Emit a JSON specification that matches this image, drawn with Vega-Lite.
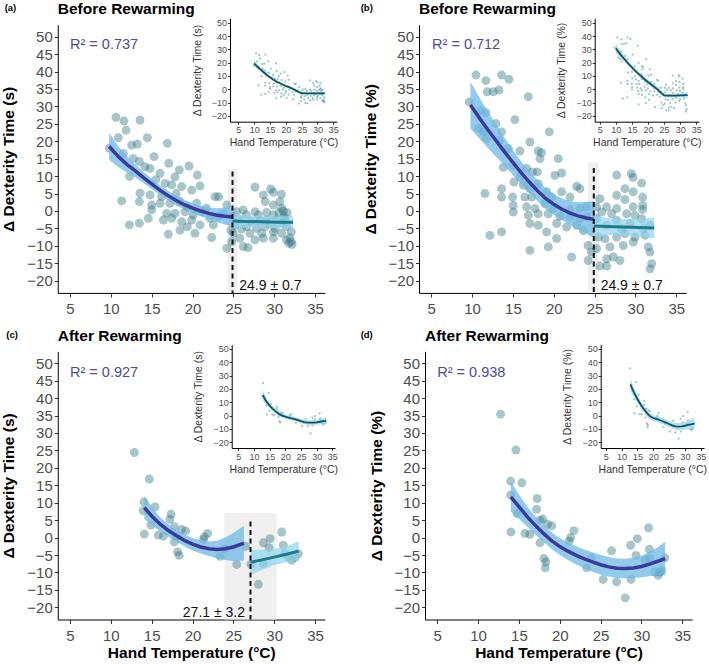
{
"$schema": "https://vega.github.io/schema/vega-lite/v6.json",
"width": 709, "height": 664, "autosize": "none", "padding": 0, "background": "white",
"config": {"view": {"stroke": null}, "axis": {"grid": false, "labelFont": "Liberation Sans", "titleFont": "Liberation Sans", "labelOverlap": false, "labelFlush": false, "domainColor": "#000000", "tickColor": "#333333", "labelColor": "#4d4d4d", "domainWidth": 1, "tickWidth": 1, "zindex": 1}, "text": {"font": "Liberation Sans"}},
"datasets": {
"pa": [{"x":10.63,"y":26.9},{"x":11.61,"y":25.8},{"x":13.57,"y":26.1},{"x":11.86,"y":23.2},{"x":10.92,"y":21.0},{"x":14.47,"y":21.0},{"x":12.55,"y":18.9},{"x":13.25,"y":19.2},{"x":16.92,"y":19.4},{"x":9.82,"y":18.0},{"x":11.53,"y":16.5},{"x":12.75,"y":15.1},{"x":15.29,"y":15.6},{"x":13.49,"y":14.2},{"x":14.18,"y":12.7},{"x":14.8,"y":12.2},{"x":17.1,"y":13.7},{"x":18.39,"y":11.8},{"x":19.57,"y":12.9},{"x":17.86,"y":9.8},{"x":16.02,"y":10.8},{"x":12.3,"y":9.9},{"x":16.63,"y":7.9},{"x":17.45,"y":7.5},{"x":20.59,"y":10.3},{"x":18.67,"y":7.0},{"x":19.9,"y":6.0},{"x":20.92,"y":7.2},{"x":13.57,"y":5.1},{"x":14.8,"y":4.6},{"x":16.22,"y":4.1},{"x":22.76,"y":4.1},{"x":23.2,"y":4.1},{"x":11.33,"y":2.9},{"x":13.49,"y":2.7},{"x":15.0,"y":1.7},{"x":16.02,"y":2.2},{"x":17.24,"y":2.2},{"x":18.47,"y":2.7},{"x":19.37,"y":1.2},{"x":20.51,"y":2.2},{"x":24.2,"y":1.7},{"x":15.0,"y":0.3},{"x":16.84,"y":-0.7},{"x":17.86,"y":-0.7},{"x":19.08,"y":-0.2},{"x":20.1,"y":-1.1},{"x":21.12,"y":-0.2},{"x":22.14,"y":-2.1},{"x":23.2,"y":-1.6},{"x":12.27,"y":-4.0},{"x":13.49,"y":-3.5},{"x":14.59,"y":-2.1},{"x":16.43,"y":-2.6},{"x":17.45,"y":-2.1},{"x":18.67,"y":-3.1},{"x":19.9,"y":-2.6},{"x":18.47,"y":-5.5},{"x":19.37,"y":-4.5},{"x":17.04,"y":-6.7},{"x":20.3,"y":-6.4},{"x":22.35,"y":-7.6},{"x":24.2,"y":-10.7},{"x":20.92,"y":-4.0},{"x":22.55,"y":-4.0},{"x":21.7,"y":0.8},{"x":23.8,"y":-0.8},{"x":24.7,"y":-5.5},{"x":15.5,"y":9.0},{"x":18.0,"y":5.0},{"x":27.65,"y":6.8},{"x":29.57,"y":6.3},{"x":29.9,"y":5.35},{"x":30.9,"y":4.8},{"x":28.67,"y":4.6},{"x":28.9,"y":2.7},{"x":30.7,"y":2.7},{"x":29.9,"y":1.7},{"x":30.9,"y":0.8},{"x":31.12,"y":0.0},{"x":26.2,"y":0.3},{"x":25.4,"y":-0.2},{"x":27.65,"y":-0.2},{"x":28.06,"y":-1.1},{"x":29.08,"y":-0.4},{"x":29.9,"y":-1.1},{"x":26.6,"y":-1.1},{"x":24.92,"y":-1.6},{"x":25.8,"y":-2.6},{"x":29.08,"y":-2.6},{"x":30.3,"y":-2.6},{"x":31.3,"y":-2.6},{"x":25.2,"y":-4.0},{"x":26.6,"y":-4.5},{"x":27.86,"y":-5.0},{"x":28.9,"y":-4.5},{"x":30.1,"y":-5.0},{"x":31.5,"y":-4.5},{"x":25.0,"y":-6.4},{"x":27.04,"y":-6.4},{"x":28.47,"y":-6.4},{"x":29.9,"y":-6.0},{"x":30.9,"y":-6.4},{"x":32.1,"y":-6.0},{"x":25.8,"y":-7.8},{"x":27.65,"y":-8.3},{"x":28.67,"y":-7.8},{"x":29.9,"y":-7.8},{"x":31.5,"y":-8.3},{"x":32.1,"y":-8.8},{"x":24.8,"y":-8.8},{"x":26.2,"y":-10.2},{"x":26.8,"y":-10.5},{"x":31.9,"y":-7.7},{"x":31.2,"y":-1.5},{"x":31.6,"y":-0.5},{"x":31.8,"y":-9.3},{"x":32.2,"y":-9.6},{"x":31.0,"y":-3.5},{"x":29.4,"y":-3.5},{"x":27.2,"y":-3.0},{"x":26.0,"y":-5.2},{"x":28.2,"y":-2.8},{"x":30.6,"y":-0.5}],
"pb": [{"x":10.47,"y":39.0},{"x":11.69,"y":37.4},{"x":13.61,"y":39.0},{"x":14.51,"y":37.8},{"x":11.86,"y":34.2},{"x":12.59,"y":34.2},{"x":13.29,"y":34.7},{"x":9.65,"y":31.3},{"x":11.04,"y":28.7},{"x":11.69,"y":28.2},{"x":16.88,"y":32.8},{"x":10.76,"y":23.7},{"x":11.37,"y":22.7},{"x":12.92,"y":25.1},{"x":13.61,"y":22.7},{"x":15.24,"y":26.2},{"x":11.78,"y":20.8},{"x":13.33,"y":20.3},{"x":14.43,"y":17.9},{"x":17.08,"y":19.8},{"x":19.45,"y":22.7},{"x":15.86,"y":17.2},{"x":18.1,"y":17.2},{"x":18.5,"y":16.7},{"x":18.31,"y":15.0},{"x":20.55,"y":15.0},{"x":13.82,"y":12.5},{"x":15.04,"y":13.1},{"x":16.67,"y":12.2},{"x":17.4,"y":11.2},{"x":17.98,"y":11.2},{"x":20.14,"y":10.2},{"x":20.96,"y":10.9},{"x":15.86,"y":9.8},{"x":15.12,"y":8.3},{"x":16.27,"y":7.4},{"x":17.08,"y":6.4},{"x":18.1,"y":7.8},{"x":22.8,"y":7.1},{"x":23.2,"y":6.4},{"x":11.57,"y":5.0},{"x":13.61,"y":6.4},{"x":13.61,"y":4.0},{"x":14.96,"y":4.0},{"x":16.47,"y":4.0},{"x":17.29,"y":4.0},{"x":19.12,"y":5.5},{"x":19.73,"y":4.0},{"x":20.96,"y":5.5},{"x":21.98,"y":4.0},{"x":15.04,"y":1.6},{"x":16.67,"y":1.2},{"x":17.69,"y":0.7},{"x":15.04,"y":-0.3},{"x":18.92,"y":2.1},{"x":19.94,"y":0.7},{"x":21.98,"y":0.4},{"x":23.2,"y":0.7},{"x":24.0,"y":1.2},{"x":16.88,"y":-1.2},{"x":18.1,"y":-0.8},{"x":19.33,"y":-0.8},{"x":20.75,"y":-1.5},{"x":21.98,"y":-1.7},{"x":23.2,"y":-2.2},{"x":24.0,"y":-1.7},{"x":17.08,"y":-3.6},{"x":18.1,"y":-4.1},{"x":19.12,"y":-6.0},{"x":20.35,"y":-3.6},{"x":21.57,"y":-4.6},{"x":22.8,"y":-4.1},{"x":23.61,"y":-5.6},{"x":12.18,"y":-7.0},{"x":13.61,"y":-6.0},{"x":20.35,"y":-7.9},{"x":17.08,"y":-11.3},{"x":19.33,"y":-10.3},{"x":22.18,"y":-13.2},{"x":24.2,"y":-9.9},{"x":24.6,"y":-11.8},{"x":27.7,"y":10.3},{"x":29.5,"y":10.7},{"x":29.7,"y":9.6},{"x":30.76,"y":8.0},{"x":28.71,"y":6.4},{"x":29.73,"y":5.5},{"x":27.7,"y":4.5},{"x":30.88,"y":4.0},{"x":25.65,"y":3.5},{"x":28.71,"y":3.3},{"x":25.24,"y":1.2},{"x":26.47,"y":1.2},{"x":27.7,"y":0.7},{"x":29.73,"y":1.2},{"x":30.88,"y":1.6},{"x":30.88,"y":0.4},{"x":25.86,"y":-0.3},{"x":27.08,"y":-0.8},{"x":28.92,"y":-0.8},{"x":29.94,"y":-1.2},{"x":25.24,"y":-2.2},{"x":27.7,"y":-2.7},{"x":30.76,"y":-2.2},{"x":26.47,"y":-4.1},{"x":29.33,"y":-3.6},{"x":31.78,"y":-4.1},{"x":25.45,"y":-7.5},{"x":26.27,"y":-8.0},{"x":27.7,"y":-7.5},{"x":28.71,"y":-6.5},{"x":29.94,"y":-7.5},{"x":31.16,"y":-7.0},{"x":25.24,"y":-10.8},{"x":26.88,"y":-10.3},{"x":28.51,"y":-9.9},{"x":29.73,"y":-8.9},{"x":31.57,"y":-10.3},{"x":31.78,"y":-11.8},{"x":26.47,"y":-13.7},{"x":27.29,"y":-13.2},{"x":28.1,"y":-14.2},{"x":25.65,"y":-15.8},{"x":26.47,"y":-15.8},{"x":31.98,"y":-15.1},{"x":31.78,"y":-16.6},{"x":24.2,"y":-14.2},{"x":30.96,"y":-5.1},{"x":28.3,"y":-5.1}],
"pc": [{"x":12.88,"y":24.4},{"x":14.71,"y":16.8},{"x":14.06,"y":10.2},{"x":13.98,"y":7.7},{"x":15.41,"y":8.8},{"x":14.1,"y":1.0},{"x":14.92,"y":3.6},{"x":15.82,"y":0.7},{"x":16.43,"y":0.4},{"x":17.37,"y":6.7},{"x":17.24,"y":5.2},{"x":17.78,"y":3.1},{"x":18.67,"y":2.3},{"x":19.16,"y":1.9},{"x":18.06,"y":0.4},{"x":17.78,"y":-1.2},{"x":18.18,"y":-4.1},{"x":18.35,"y":-5.1},{"x":21.45,"y":0.2},{"x":21.86,"y":1.2},{"x":21.33,"y":-0.6},{"x":23.37,"y":-5.4},{"x":23.9,"y":-3.2},{"x":25.41,"y":-7.7},{"x":27.16,"y":-7.7},{"x":28.06,"y":-13.4},{"x":28.67,"y":-1.5},{"x":29.49,"y":-0.3},{"x":29.37,"y":-2.9},{"x":30.92,"y":1.6},{"x":31.12,"y":-2.2},{"x":28.67,"y":-7.5},{"x":31.73,"y":-5.6},{"x":32.14,"y":-6.5},{"x":32.55,"y":-5.7},{"x":32.96,"y":-4.6},{"x":31.33,"y":-4.6},{"x":26.5,"y":-2.5}],
"pd": [{"x":12.75,"y":35.4},{"x":14.63,"y":25.1},{"x":13.98,"y":16.2},{"x":15.36,"y":15.7},{"x":13.98,"y":12.2},{"x":17.24,"y":11.2},{"x":14.79,"y":6.9},{"x":17.16,"y":8.1},{"x":17.57,"y":5.0},{"x":17.9,"y":5.3},{"x":18.5,"y":3.8},{"x":19.0,"y":3.4},{"x":14.02,"y":1.6},{"x":15.73,"y":1.2},{"x":16.34,"y":0.9},{"x":17.57,"y":-1.5},{"x":18.06,"y":-6.0},{"x":18.3,"y":-7.0},{"x":18.22,"y":-8.7},{"x":21.73,"y":2.0},{"x":21.32,"y":0.0},{"x":21.16,"y":-1.0},{"x":23.28,"y":-8.7},{"x":23.85,"y":-5.8},{"x":25.32,"y":-12.0},{"x":26.34,"y":-3.8},{"x":26.96,"y":-12.7},{"x":28.02,"y":-17.3},{"x":28.71,"y":-12.0},{"x":28.67,"y":-2.2},{"x":29.49,"y":-0.3},{"x":29.33,"y":-5.1},{"x":30.87,"y":2.8},{"x":30.96,"y":-3.35},{"x":30.47,"y":-6.5},{"x":31.04,"y":-6.0},{"x":31.65,"y":-9.9},{"x":32.26,"y":-9.9},{"x":32.06,"y":-10.8},{"x":32.87,"y":-5.8},{"x":32.47,"y":-9.4}],
"fa1": [{"x":9.8,"y":18.5,"lo":14.6,"hi":22.4},{"x":11,"y":15.4,"lo":12.5,"hi":18.3},{"x":12,"y":13.3,"lo":11.0,"hi":15.6},{"x":13,"y":11.5,"lo":9.6,"hi":13.4},{"x":14,"y":9.6,"lo":8.0,"hi":11.2},{"x":15,"y":7.8,"lo":6.3,"hi":9.3},{"x":16,"y":6.0,"lo":4.6,"hi":7.4},{"x":17,"y":4.4,"lo":3.0,"hi":5.8},{"x":18,"y":3.0,"lo":1.6,"hi":4.4},{"x":19,"y":1.8,"lo":0.4,"hi":3.2},{"x":20,"y":0.8,"lo":-0.6,"hi":2.2},{"x":21,"y":0.0,"lo":-1.5,"hi":1.5},{"x":22,"y":-0.7,"lo":-2.4,"hi":1.0},{"x":23,"y":-1.2,"lo":-3.2,"hi":0.8},{"x":24,"y":-1.5,"lo":-3.9,"hi":0.9},{"x":24.9,"y":-1.7,"lo":-4.5,"hi":1.1}],
"fa2": [{"x":24.9,"y":-2.9,"lo":-5.1,"hi":-0.7},{"x":26.5,"y":-3.0,"lo":-4.8,"hi":-1.2},{"x":28.5,"y":-3.1,"lo":-4.7,"hi":-1.5},{"x":30.5,"y":-3.2,"lo":-4.9,"hi":-1.5},{"x":32.3,"y":-3.25,"lo":-5.15,"hi":-1.35}],
"fb1": [{"x":9.8,"y":30.4,"lo":23.7,"hi":37.1},{"x":11,"y":26.3,"lo":20.5,"hi":32.1},{"x":12,"y":23.1,"lo":17.9,"hi":28.3},{"x":13,"y":20.0,"lo":15.4,"hi":24.6},{"x":14,"y":16.9,"lo":12.9,"hi":20.9},{"x":15,"y":13.9,"lo":10.3,"hi":17.5},{"x":16,"y":11.0,"lo":7.7,"hi":14.3},{"x":17,"y":8.3,"lo":5.2,"hi":11.4},{"x":18,"y":5.8,"lo":2.8,"hi":8.8},{"x":19,"y":3.6,"lo":0.6,"hi":6.6},{"x":20,"y":1.9,"lo":-1.1,"hi":4.9},{"x":21,"y":0.5,"lo":-2.6,"hi":3.6},{"x":22,"y":-0.6,"lo":-4.0,"hi":2.8},{"x":23,"y":-1.4,"lo":-5.3,"hi":2.5},{"x":24,"y":-2.0,"lo":-6.6,"hi":2.6},{"x":24.9,"y":-2.4,"lo":-7.7,"hi":2.9}],
"fb2": [{"x":24.9,"y":-4.3,"lo":-7.3,"hi":-1.3},{"x":26.5,"y":-4.45,"lo":-6.9,"hi":-2.0},{"x":28.5,"y":-4.6,"lo":-6.9,"hi":-2.3},{"x":30.5,"y":-4.75,"lo":-7.3,"hi":-2.2},{"x":32.3,"y":-4.9,"lo":-7.9,"hi":-1.9}],
"fc1": [{"x":14.1,"y":8.6,"lo":5.3,"hi":11.9},{"x":15,"y":6.2,"lo":3.6,"hi":8.8},{"x":16,"y":3.9,"lo":1.8,"hi":6.0},{"x":17,"y":2.1,"lo":0.3,"hi":3.9},{"x":18,"y":0.6,"lo":-1.1,"hi":2.3},{"x":19,"y":-0.8,"lo":-2.5,"hi":0.9},{"x":20,"y":-1.9,"lo":-3.7,"hi":-0.1},{"x":21,"y":-2.7,"lo":-4.6,"hi":-0.8},{"x":22,"y":-3.2,"lo":-5.3,"hi":-1.1},{"x":23,"y":-3.4,"lo":-5.9,"hi":-0.9},{"x":24,"y":-3.2,"lo":-6.4,"hi":0.0},{"x":25,"y":-2.7,"lo":-6.7,"hi":1.3},{"x":26.3,"y":-1.6,"lo":-6.6,"hi":3.4}],
"fc2": [{"x":27.1,"y":-7.1,"lo":-10.8,"hi":-3.5},{"x":28.5,"y":-6.4,"lo":-9.3,"hi":-3.5},{"x":30,"y":-5.6,"lo":-7.9,"hi":-3.3},{"x":31.5,"y":-4.8,"lo":-7.1,"hi":-2.5},{"x":33,"y":-3.9,"lo":-6.7,"hi":-1.1}],
"fd": [{"x":14,"y":11.7,"lo":7.4,"hi":16.0},{"x":15,"y":8.9,"lo":5.4,"hi":12.4},{"x":16,"y":6.0,"lo":3.1,"hi":8.9},{"x":17,"y":3.5,"lo":0.9,"hi":6.1},{"x":18,"y":1.2,"lo":-1.2,"hi":3.6},{"x":19,"y":-0.9,"lo":-3.3,"hi":1.5},{"x":20,"y":-2.6,"lo":-5.0,"hi":-0.2},{"x":21,"y":-3.9,"lo":-6.4,"hi":-1.4},{"x":22,"y":-5.1,"lo":-7.7,"hi":-2.5},{"x":23,"y":-6.1,"lo":-8.8,"hi":-3.4},{"x":24,"y":-7.0,"lo":-9.8,"hi":-4.2},{"x":25,"y":-7.8,"lo":-10.6,"hi":-5.0},{"x":26,"y":-8.4,"lo":-11.2,"hi":-5.6},{"x":27,"y":-8.8,"lo":-11.6,"hi":-6.0},{"x":28,"y":-8.9,"lo":-11.7,"hi":-6.1},{"x":29,"y":-8.7,"lo":-11.6,"hi":-5.8},{"x":30,"y":-8.3,"lo":-11.4,"hi":-5.2},{"x":31,"y":-7.6,"lo":-11.1,"hi":-4.1},{"x":32,"y":-6.8,"lo":-10.8,"hi":-2.8},{"x":32.9,"y":-6.0,"lo":-10.8,"hi":-1.2}],
"ia": [{"x":10,"y":19.5,"lo":17.0,"hi":22.0},{"x":11,"y":17.1,"lo":15.1,"hi":19.1},{"x":12,"y":15.0,"lo":13.4,"hi":16.6},{"x":13,"y":12.8,"lo":11.5,"hi":14.1},{"x":14,"y":10.8,"lo":9.6,"hi":12.0},{"x":15,"y":9.1,"lo":8.0,"hi":10.2},{"x":16,"y":7.4,"lo":6.4,"hi":8.4},{"x":17,"y":5.8,"lo":4.8,"hi":6.8},{"x":18,"y":4.7,"lo":3.7,"hi":5.7},{"x":19,"y":3.6,"lo":2.6,"hi":4.6},{"x":20,"y":2.5,"lo":1.5,"hi":3.5},{"x":21,"y":1.6,"lo":0.6,"hi":2.6},{"x":22,"y":0.6,"lo":-0.4,"hi":1.6},{"x":23,"y":-0.6,"lo":-1.6,"hi":0.4},{"x":24,"y":-2.0,"lo":-3.0,"hi":-1.0},{"x":25,"y":-2.8,"lo":-3.8,"hi":-1.8},{"x":26,"y":-3.0,"lo":-3.9,"hi":-2.1},{"x":28,"y":-3.0,"lo":-3.9,"hi":-2.1},{"x":30,"y":-3.0,"lo":-4.0,"hi":-2.0},{"x":32.3,"y":-3.0,"lo":-4.5,"hi":-1.5}],
"ib": [{"x":10,"y":30.8,"lo":27.3,"hi":34.3},{"x":11,"y":27.5,"lo":24.7,"hi":30.3},{"x":12,"y":24.5,"lo":22.2,"hi":26.8},{"x":13,"y":21.8,"lo":19.8,"hi":23.8},{"x":14,"y":19.0,"lo":17.2,"hi":20.8},{"x":15,"y":16.5,"lo":14.8,"hi":18.2},{"x":16,"y":14.0,"lo":12.4,"hi":15.6},{"x":17,"y":11.8,"lo":10.2,"hi":13.4},{"x":18,"y":9.6,"lo":8.0,"hi":11.2},{"x":19,"y":7.4,"lo":5.8,"hi":9.0},{"x":20,"y":5.5,"lo":3.9,"hi":7.1},{"x":21,"y":3.6,"lo":2.0,"hi":5.2},{"x":22,"y":1.8,"lo":0.2,"hi":3.4},{"x":23,"y":-0.2,"lo":-1.8,"hi":1.4},{"x":24,"y":-2.5,"lo":-4.0,"hi":-1.0},{"x":25,"y":-4.5,"lo":-5.9,"hi":-3.1},{"x":26,"y":-4.8,"lo":-6.1,"hi":-3.5},{"x":28,"y":-4.8,"lo":-6.1,"hi":-3.5},{"x":30,"y":-4.6,"lo":-6.0,"hi":-3.2},{"x":32.3,"y":-4.3,"lo":-6.5,"hi":-2.1}],
"ic": [{"x":12.8,"y":15.5,"lo":11.5,"hi":19.5},{"x":13.5,"y":12.5,"lo":9.5,"hi":15.5},{"x":14,"y":10.5,"lo":7.9,"hi":13.1},{"x":15,"y":7.5,"lo":5.4,"hi":9.6},{"x":16,"y":5.0,"lo":3.2,"hi":6.8},{"x":17,"y":3.0,"lo":1.3,"hi":4.7},{"x":18,"y":1.3,"lo":-0.3,"hi":2.9},{"x":19,"y":0.0,"lo":-1.6,"hi":1.6},{"x":20,"y":-0.8,"lo":-2.4,"hi":0.8},{"x":21,"y":-1.5,"lo":-3.1,"hi":0.1},{"x":22,"y":-2.0,"lo":-3.6,"hi":-0.4},{"x":23,"y":-2.6,"lo":-4.2,"hi":-1.0},{"x":24,"y":-3.4,"lo":-5.0,"hi":-1.8},{"x":25,"y":-4.2,"lo":-5.8,"hi":-2.6},{"x":26,"y":-4.8,"lo":-6.5,"hi":-3.1},{"x":27,"y":-5.2,"lo":-6.9,"hi":-3.5},{"x":28,"y":-5.3,"lo":-7.0,"hi":-3.6},{"x":29,"y":-5.2,"lo":-6.9,"hi":-3.5},{"x":30,"y":-5.0,"lo":-6.8,"hi":-3.2},{"x":31,"y":-4.6,"lo":-6.6,"hi":-2.6},{"x":32,"y":-4.2,"lo":-6.5,"hi":-1.9},{"x":33,"y":-4.0,"lo":-6.8,"hi":-1.2}],
"id": [{"x":12.8,"y":23.5,"lo":18.5,"hi":28.5},{"x":13.5,"y":19.5,"lo":15.5,"hi":23.5},{"x":14,"y":17.0,"lo":13.5,"hi":20.5},{"x":15,"y":12.5,"lo":9.5,"hi":15.5},{"x":16,"y":8.5,"lo":5.8,"hi":11.2},{"x":17,"y":5.0,"lo":2.5,"hi":7.5},{"x":18,"y":2.0,"lo":-0.4,"hi":4.4},{"x":19,"y":-0.5,"lo":-2.8,"hi":1.8},{"x":20,"y":-1.8,"lo":-4.1,"hi":0.5},{"x":21,"y":-2.5,"lo":-4.8,"hi":-0.2},{"x":22,"y":-3.3,"lo":-5.6,"hi":-1.0},{"x":23,"y":-4.2,"lo":-6.5,"hi":-1.9},{"x":24,"y":-5.2,"lo":-7.5,"hi":-2.9},{"x":25,"y":-6.3,"lo":-8.6,"hi":-4.0},{"x":26,"y":-7.3,"lo":-9.7,"hi":-4.9},{"x":27,"y":-8.0,"lo":-10.5,"hi":-5.5},{"x":28,"y":-8.2,"lo":-10.8,"hi":-5.6},{"x":29,"y":-8.0,"lo":-10.7,"hi":-5.3},{"x":30,"y":-7.6,"lo":-10.5,"hi":-4.7},{"x":31,"y":-7.0,"lo":-10.2,"hi":-3.8},{"x":32,"y":-6.5,"lo":-10.2,"hi":-2.8},{"x":33,"y":-6.0,"lo":-10.5,"hi":-1.5}]
},
"resolve": {"scale": {"x": "independent", "y": "independent"}, "axis": {"x": "independent", "y": "independent"}},
"layer": [
 {"data": {"values": [{"x": 24.3, "x2": 25.45, "y": 12.0, "y2": -23.5}]}, "mark": {"type": "rect", "color": "#efefef"}, "encoding": {"x": {"field": "x", "type": "quantitative", "scale": {"domain": [3.5, 36.2], "range": [57.75, 324.8], "nice": false, "zero": false}, "axis": null}, "x2": {"field": "x2"}, "y": {"field": "y", "type": "quantitative", "scale": {"domain": [-23.5, 53.4], "range": [292.9, 24.85], "nice": false, "zero": false}, "axis": null}, "y2": {"field": "y2"}}},
 {"data": {"name": "pa"}, "mark": {"type": "circle", "size": 80, "color": "#2f7480", "opacity": 0.42}, "encoding": {
   "x": {"field": "x", "type": "quantitative", "scale": {"domain": [3.5, 36.2], "range": [57.75, 324.8], "nice": false, "zero": false}, "axis": {"orient": "bottom", "offset": -371.1, "values": [5,10,15,20,25,30,35], "title": null, "tickSize": 4, "labelPadding": 5, "labelFontSize": 15}},
   "y": {"field": "y", "type": "quantitative", "scale": {"domain": [-23.5, 53.4], "range": [292.9, 24.85], "nice": false, "zero": false}, "axis": {"orient": "left", "offset": -57.75, "values": [-20,-15,-10,-5,0,5,10,15,20,25,30,35,40,45,50], "title": "Δ Dexterity Time (s)", "tickSize": 3.5, "labelPadding": 2, "labelFontSize": 15, "titleFontSize": 15.5, "titleFontWeight": "bold", "titleColor": "#000000", "titlePadding": 10}}}},
 {"data": {"name": "fa1"}, "mark": {"type": "area", "color": "#6db8e6", "opacity": 0.75}, "encoding": {"x": {"field": "x", "type": "quantitative", "scale": {"domain": [3.5, 36.2], "range": [57.75, 324.8], "nice": false, "zero": false}, "axis": null}, "y": {"field": "lo", "type": "quantitative", "scale": {"domain": [-23.5, 53.4], "range": [292.9, 24.85], "nice": false, "zero": false}, "axis": null}, "y2": {"field": "hi"}}},
 {"data": {"name": "fa2"}, "mark": {"type": "area", "color": "#8fd3ee", "opacity": 0.7}, "encoding": {"x": {"field": "x", "type": "quantitative", "scale": {"domain": [3.5, 36.2], "range": [57.75, 324.8], "nice": false, "zero": false}, "axis": null}, "y": {"field": "lo", "type": "quantitative", "scale": {"domain": [-23.5, 53.4], "range": [292.9, 24.85], "nice": false, "zero": false}, "axis": null}, "y2": {"field": "hi"}}},
 {"data": {"name": "fa1"}, "mark": {"type": "line", "color": "#3b3a9a", "strokeWidth": 3.5}, "encoding": {"x": {"field": "x", "type": "quantitative", "scale": {"domain": [3.5, 36.2], "range": [57.75, 324.8], "nice": false, "zero": false}, "axis": null}, "y": {"field": "y", "type": "quantitative", "scale": {"domain": [-23.5, 53.4], "range": [292.9, 24.85], "nice": false, "zero": false}, "axis": null}}},
 {"data": {"name": "fa2"}, "mark": {"type": "line", "color": "#1d7a88", "strokeWidth": 3}, "encoding": {"x": {"field": "x", "type": "quantitative", "scale": {"domain": [3.5, 36.2], "range": [57.75, 324.8], "nice": false, "zero": false}, "axis": null}, "y": {"field": "y", "type": "quantitative", "scale": {"domain": [-23.5, 53.4], "range": [292.9, 24.85], "nice": false, "zero": false}, "axis": null}}},
 {"data": {"values": [{"x": 24.9, "y": 11.3, "y2": -23.5}]}, "mark": {"type": "rule", "color": "#111111", "strokeWidth": 2, "strokeDash": [5, 3.5]}, "encoding": {"x": {"field": "x", "type": "quantitative", "scale": {"domain": [3.5, 36.2], "range": [57.75, 324.8], "nice": false, "zero": false}, "axis": null}, "y": {"field": "y", "type": "quantitative", "scale": {"domain": [-23.5, 53.4], "range": [292.9, 24.85], "nice": false, "zero": false}, "axis": null}, "y2": {"field": "y2"}}},
 {"data": {"values": [{"x": 3.5, "y": 57.9, "t": "Before Rewarming", "s": 15.5}, {"x": -3.0, "y": 58.1, "t": "(a)", "s": 9.5}]}, "mark": {"type": "text", "align": "left", "baseline": "middle", "fontWeight": "bold", "color": "#000000"}, "encoding": {"x": {"field": "x", "type": "quantitative", "scale": {"domain": [3.5, 36.2], "range": [57.75, 324.8], "nice": false, "zero": false}, "axis": null}, "y": {"field": "y", "type": "quantitative", "scale": {"domain": [-23.5, 53.4], "range": [292.9, 24.85], "nice": false, "zero": false}, "axis": null}, "text": {"field": "t"}, "size": {"field": "s", "type": "quantitative", "scale": null}}},
 {"data": {"values": [{"x": 5, "y": 47.6, "t": "R² = 0.737"}]}, "mark": {"type": "text", "align": "left", "baseline": "middle", "fontSize": 14.5, "color": "#4b4ba6"}, "encoding": {"x": {"field": "x", "type": "quantitative", "scale": {"domain": [3.5, 36.2], "range": [57.75, 324.8], "nice": false, "zero": false}, "axis": null}, "y": {"field": "y", "type": "quantitative", "scale": {"domain": [-23.5, 53.4], "range": [292.9, 24.85], "nice": false, "zero": false}, "axis": null}, "text": {"field": "t"}}},
 {"data": {"values": [{"x": 25.73, "y": -21.5, "t": "24.9 ± 0.7"}]}, "mark": {"type": "text", "align": "left", "baseline": "middle", "fontSize": 14, "color": "#111111"}, "encoding": {"x": {"field": "x", "type": "quantitative", "scale": {"domain": [3.5, 36.2], "range": [57.75, 324.8], "nice": false, "zero": false}, "axis": null}, "y": {"field": "y", "type": "quantitative", "scale": {"domain": [-23.5, 53.4], "range": [292.9, 24.85], "nice": false, "zero": false}, "axis": null}, "text": {"field": "t"}}},

 {"data": {"name": "pa"}, "mark": {"type": "circle", "size": 5, "color": "#3d8a96", "opacity": 0.5}, "encoding": {
   "x": {"field": "x", "type": "quantitative", "scale": {"domain": [2.38, 36.17], "range": [230, 337], "nice": false, "zero": false}, "axis": {"orient": "bottom", "offset": -542.3, "values": [5,10,15,20,25,30,35], "title": "Hand Temperature (°C)", "tickSize": 2.5, "labelPadding": 1.5, "labelFontSize": 9, "titleFontSize": 10.5, "titleFontWeight": "normal", "titleColor": "#333333", "titlePadding": 3}},
   "y": {"field": "y", "type": "quantitative", "scale": {"domain": [-24.3, 53.3], "range": [121.7, 18.3], "nice": false, "zero": false}, "axis": {"orient": "left", "offset": -230, "values": [-20,-10,0,10,20,30,40,50], "title": "Δ Dexterity Time (s)", "tickSize": 2.5, "labelPadding": 1, "labelFontSize": 9, "titleFontSize": 10.5, "titleFontWeight": "normal", "titleColor": "#333333", "titlePadding": 9}}}},
 {"data": {"name": "ia"}, "mark": {"type": "area", "color": "#8fd3ee", "opacity": 0.7}, "encoding": {"x": {"field": "x", "type": "quantitative", "scale": {"domain": [2.38, 36.17], "range": [230, 337], "nice": false, "zero": false}, "axis": null}, "y": {"field": "lo", "type": "quantitative", "scale": {"domain": [-24.3, 53.3], "range": [121.7, 18.3], "nice": false, "zero": false}, "axis": null}, "y2": {"field": "hi"}}},
 {"data": {"name": "ia"}, "mark": {"type": "line", "color": "#14525c", "strokeWidth": 1.8}, "encoding": {"x": {"field": "x", "type": "quantitative", "scale": {"domain": [2.38, 36.17], "range": [230, 337], "nice": false, "zero": false}, "axis": null}, "y": {"field": "y", "type": "quantitative", "scale": {"domain": [-24.3, 53.3], "range": [121.7, 18.3], "nice": false, "zero": false}, "axis": null}}},

 {"data": {"values": [{"x": 24.2, "x2": 25.5, "y": 13.9, "y2": -23.5}]}, "mark": {"type": "rect", "color": "#efefef"}, "encoding": {"x": {"field": "x", "type": "quantitative", "scale": {"domain": [3.5, 36.2], "range": [419, 686.1], "nice": false, "zero": false}, "axis": null}, "x2": {"field": "x2"}, "y": {"field": "y", "type": "quantitative", "scale": {"domain": [-23.5, 53.4], "range": [292.9, 24.85], "nice": false, "zero": false}, "axis": null}, "y2": {"field": "y2"}}},
 {"data": {"name": "pb"}, "mark": {"type": "circle", "size": 80, "color": "#2f7480", "opacity": 0.42}, "encoding": {
   "x": {"field": "x", "type": "quantitative", "scale": {"domain": [3.5, 36.2], "range": [419, 686.1], "nice": false, "zero": false}, "axis": {"orient": "bottom", "offset": -371.1, "values": [5,10,15,20,25,30,35], "title": null, "tickSize": 4, "labelPadding": 5, "labelFontSize": 15}},
   "y": {"field": "y", "type": "quantitative", "scale": {"domain": [-23.5, 53.4], "range": [292.9, 24.85], "nice": false, "zero": false}, "axis": {"orient": "left", "offset": -419, "values": [-20,-15,-10,-5,0,5,10,15,20,25,30,35,40,45,50], "title": "Δ Dexterity Time (%)", "tickSize": 3.5, "labelPadding": 2, "labelFontSize": 15, "titleFontSize": 15.5, "titleFontWeight": "bold", "titleColor": "#000000", "titlePadding": 10}}}},
 {"data": {"name": "fb1"}, "mark": {"type": "area", "color": "#6db8e6", "opacity": 0.75}, "encoding": {"x": {"field": "x", "type": "quantitative", "scale": {"domain": [3.5, 36.2], "range": [419, 686.1], "nice": false, "zero": false}, "axis": null}, "y": {"field": "lo", "type": "quantitative", "scale": {"domain": [-23.5, 53.4], "range": [292.9, 24.85], "nice": false, "zero": false}, "axis": null}, "y2": {"field": "hi"}}},
 {"data": {"name": "fb2"}, "mark": {"type": "area", "color": "#8fd3ee", "opacity": 0.7}, "encoding": {"x": {"field": "x", "type": "quantitative", "scale": {"domain": [3.5, 36.2], "range": [419, 686.1], "nice": false, "zero": false}, "axis": null}, "y": {"field": "lo", "type": "quantitative", "scale": {"domain": [-23.5, 53.4], "range": [292.9, 24.85], "nice": false, "zero": false}, "axis": null}, "y2": {"field": "hi"}}},
 {"data": {"name": "fb1"}, "mark": {"type": "line", "color": "#3b3a9a", "strokeWidth": 3.5}, "encoding": {"x": {"field": "x", "type": "quantitative", "scale": {"domain": [3.5, 36.2], "range": [419, 686.1], "nice": false, "zero": false}, "axis": null}, "y": {"field": "y", "type": "quantitative", "scale": {"domain": [-23.5, 53.4], "range": [292.9, 24.85], "nice": false, "zero": false}, "axis": null}}},
 {"data": {"name": "fb2"}, "mark": {"type": "line", "color": "#1d7a88", "strokeWidth": 3}, "encoding": {"x": {"field": "x", "type": "quantitative", "scale": {"domain": [3.5, 36.2], "range": [419, 686.1], "nice": false, "zero": false}, "axis": null}, "y": {"field": "y", "type": "quantitative", "scale": {"domain": [-23.5, 53.4], "range": [292.9, 24.85], "nice": false, "zero": false}, "axis": null}}},
 {"data": {"values": [{"x": 24.9, "y": 12.3, "y2": -23.5}]}, "mark": {"type": "rule", "color": "#111111", "strokeWidth": 2, "strokeDash": [5, 3.5]}, "encoding": {"x": {"field": "x", "type": "quantitative", "scale": {"domain": [3.5, 36.2], "range": [419, 686.1], "nice": false, "zero": false}, "axis": null}, "y": {"field": "y", "type": "quantitative", "scale": {"domain": [-23.5, 53.4], "range": [292.9, 24.85], "nice": false, "zero": false}, "axis": null}, "y2": {"field": "y2"}}},
 {"data": {"values": [{"x": 3.5, "y": 57.9, "t": "Before Rewarming", "s": 15.5}, {"x": -3.64, "y": 58.1, "t": "(b)", "s": 9.5}]}, "mark": {"type": "text", "align": "left", "baseline": "middle", "fontWeight": "bold", "color": "#000000"}, "encoding": {"x": {"field": "x", "type": "quantitative", "scale": {"domain": [3.5, 36.2], "range": [419, 686.1], "nice": false, "zero": false}, "axis": null}, "y": {"field": "y", "type": "quantitative", "scale": {"domain": [-23.5, 53.4], "range": [292.9, 24.85], "nice": false, "zero": false}, "axis": null}, "text": {"field": "t"}, "size": {"field": "s", "type": "quantitative", "scale": null}}},
 {"data": {"values": [{"x": 5.1, "y": 47.6, "t": "R² = 0.712"}]}, "mark": {"type": "text", "align": "left", "baseline": "middle", "fontSize": 14.5, "color": "#4b4ba6"}, "encoding": {"x": {"field": "x", "type": "quantitative", "scale": {"domain": [3.5, 36.2], "range": [419, 686.1], "nice": false, "zero": false}, "axis": null}, "y": {"field": "y", "type": "quantitative", "scale": {"domain": [-23.5, 53.4], "range": [292.9, 24.85], "nice": false, "zero": false}, "axis": null}, "text": {"field": "t"}}},
 {"data": {"values": [{"x": 25.74, "y": -21.5, "t": "24.9 ± 0.7"}]}, "mark": {"type": "text", "align": "left", "baseline": "middle", "fontSize": 14, "color": "#111111"}, "encoding": {"x": {"field": "x", "type": "quantitative", "scale": {"domain": [3.5, 36.2], "range": [419, 686.1], "nice": false, "zero": false}, "axis": null}, "y": {"field": "y", "type": "quantitative", "scale": {"domain": [-23.5, 53.4], "range": [292.9, 24.85], "nice": false, "zero": false}, "axis": null}, "text": {"field": "t"}}},

 {"data": {"name": "pb"}, "mark": {"type": "circle", "size": 5, "color": "#3d8a96", "opacity": 0.5}, "encoding": {
   "x": {"field": "x", "type": "quantitative", "scale": {"domain": [3.45, 35.84], "range": [594.7, 699], "nice": false, "zero": false}, "axis": {"orient": "bottom", "offset": -542.3, "values": [5,10,15,20,25,30,35], "title": "Hand Temperature (°C)", "tickSize": 2.5, "labelPadding": 1.5, "labelFontSize": 9, "titleFontSize": 10.5, "titleFontWeight": "normal", "titleColor": "#333333", "titlePadding": 3}},
   "y": {"field": "y", "type": "quantitative", "scale": {"domain": [-24.3, 53.3], "range": [121.7, 18.3], "nice": false, "zero": false}, "axis": {"orient": "left", "offset": -594.7, "values": [-20,-10,0,10,20,30,40,50], "title": "Δ Dexterity Time (%)", "tickSize": 2.5, "labelPadding": 1, "labelFontSize": 9, "titleFontSize": 10.5, "titleFontWeight": "normal", "titleColor": "#333333", "titlePadding": 9}}}},
 {"data": {"name": "ib"}, "mark": {"type": "area", "color": "#8fd3ee", "opacity": 0.7}, "encoding": {"x": {"field": "x", "type": "quantitative", "scale": {"domain": [3.45, 35.84], "range": [594.7, 699], "nice": false, "zero": false}, "axis": null}, "y": {"field": "lo", "type": "quantitative", "scale": {"domain": [-24.3, 53.3], "range": [121.7, 18.3], "nice": false, "zero": false}, "axis": null}, "y2": {"field": "hi"}}},
 {"data": {"name": "ib"}, "mark": {"type": "line", "color": "#14525c", "strokeWidth": 1.8}, "encoding": {"x": {"field": "x", "type": "quantitative", "scale": {"domain": [3.45, 35.84], "range": [594.7, 699], "nice": false, "zero": false}, "axis": null}, "y": {"field": "y", "type": "quantitative", "scale": {"domain": [-24.3, 53.3], "range": [121.7, 18.3], "nice": false, "zero": false}, "axis": null}}},

 {"data": {"values": [{"x": 23.9, "x2": 30.3, "y": 7.0, "y2": -23.5}]}, "mark": {"type": "rect", "color": "#efefef"}, "encoding": {"x": {"field": "x", "type": "quantitative", "scale": {"domain": [3.5, 36.2], "range": [57.75, 324.8], "nice": false, "zero": false}, "axis": null}, "x2": {"field": "x2"}, "y": {"field": "y", "type": "quantitative", "scale": {"domain": [-23.5, 53.4], "range": [619.5, 351.4], "nice": false, "zero": false}, "axis": null}, "y2": {"field": "y2"}}},
 {"data": {"name": "pc"}, "mark": {"type": "circle", "size": 80, "color": "#2f7480", "opacity": 0.42}, "encoding": {
   "x": {"field": "x", "type": "quantitative", "scale": {"domain": [3.5, 36.2], "range": [57.75, 324.8], "nice": false, "zero": false}, "axis": {"orient": "bottom", "offset": -44.5, "values": [5,10,15,20,25,30,35], "title": "Hand Temperature (°C)", "tickSize": 4, "labelPadding": 5, "labelFontSize": 15, "titleFontSize": 15.5, "titleFontWeight": "bold", "titleColor": "#000000", "titlePadding": 2}},
   "y": {"field": "y", "type": "quantitative", "scale": {"domain": [-23.5, 53.4], "range": [619.5, 351.4], "nice": false, "zero": false}, "axis": {"orient": "left", "offset": -57.75, "values": [-20,-15,-10,-5,0,5,10,15,20,25,30,35,40,45,50], "title": "Δ Dexterity Time (s)", "tickSize": 3.5, "labelPadding": 2, "labelFontSize": 15, "titleFontSize": 15.5, "titleFontWeight": "bold", "titleColor": "#000000", "titlePadding": 10}}}},
 {"data": {"name": "fc1"}, "mark": {"type": "area", "color": "#6db8e6", "opacity": 0.75}, "encoding": {"x": {"field": "x", "type": "quantitative", "scale": {"domain": [3.5, 36.2], "range": [57.75, 324.8], "nice": false, "zero": false}, "axis": null}, "y": {"field": "lo", "type": "quantitative", "scale": {"domain": [-23.5, 53.4], "range": [619.5, 351.4], "nice": false, "zero": false}, "axis": null}, "y2": {"field": "hi"}}},
 {"data": {"name": "fc2"}, "mark": {"type": "area", "color": "#8fd3ee", "opacity": 0.7}, "encoding": {"x": {"field": "x", "type": "quantitative", "scale": {"domain": [3.5, 36.2], "range": [57.75, 324.8], "nice": false, "zero": false}, "axis": null}, "y": {"field": "lo", "type": "quantitative", "scale": {"domain": [-23.5, 53.4], "range": [619.5, 351.4], "nice": false, "zero": false}, "axis": null}, "y2": {"field": "hi"}}},
 {"data": {"name": "fc1"}, "mark": {"type": "line", "color": "#3b3a9a", "strokeWidth": 3.5}, "encoding": {"x": {"field": "x", "type": "quantitative", "scale": {"domain": [3.5, 36.2], "range": [57.75, 324.8], "nice": false, "zero": false}, "axis": null}, "y": {"field": "y", "type": "quantitative", "scale": {"domain": [-23.5, 53.4], "range": [619.5, 351.4], "nice": false, "zero": false}, "axis": null}}},
 {"data": {"name": "fc2"}, "mark": {"type": "line", "color": "#1d7a88", "strokeWidth": 3}, "encoding": {"x": {"field": "x", "type": "quantitative", "scale": {"domain": [3.5, 36.2], "range": [57.75, 324.8], "nice": false, "zero": false}, "axis": null}, "y": {"field": "y", "type": "quantitative", "scale": {"domain": [-23.5, 53.4], "range": [619.5, 351.4], "nice": false, "zero": false}, "axis": null}}},
 {"data": {"values": [{"x": 27.1, "y": 4.6, "y2": -23.5}]}, "mark": {"type": "rule", "color": "#111111", "strokeWidth": 2, "strokeDash": [5, 3.5]}, "encoding": {"x": {"field": "x", "type": "quantitative", "scale": {"domain": [3.5, 36.2], "range": [57.75, 324.8], "nice": false, "zero": false}, "axis": null}, "y": {"field": "y", "type": "quantitative", "scale": {"domain": [-23.5, 53.4], "range": [619.5, 351.4], "nice": false, "zero": false}, "axis": null}, "y2": {"field": "y2"}}},
 {"data": {"values": [{"x": 3.5, "y": 57.8, "t": "After Rewarming", "s": 15.5}, {"x": -2.8, "y": 58.1, "t": "(c)", "s": 9.5}]}, "mark": {"type": "text", "align": "left", "baseline": "middle", "fontWeight": "bold", "color": "#000000"}, "encoding": {"x": {"field": "x", "type": "quantitative", "scale": {"domain": [3.5, 36.2], "range": [57.75, 324.8], "nice": false, "zero": false}, "axis": null}, "y": {"field": "y", "type": "quantitative", "scale": {"domain": [-23.5, 53.4], "range": [619.5, 351.4], "nice": false, "zero": false}, "axis": null}, "text": {"field": "t"}, "size": {"field": "s", "type": "quantitative", "scale": null}}},
 {"data": {"values": [{"x": 5, "y": 47.1, "t": "R² = 0.927"}]}, "mark": {"type": "text", "align": "left", "baseline": "middle", "fontSize": 14.5, "color": "#4b4ba6"}, "encoding": {"x": {"field": "x", "type": "quantitative", "scale": {"domain": [3.5, 36.2], "range": [57.75, 324.8], "nice": false, "zero": false}, "axis": null}, "y": {"field": "y", "type": "quantitative", "scale": {"domain": [-23.5, 53.4], "range": [619.5, 351.4], "nice": false, "zero": false}, "axis": null}, "text": {"field": "t"}}},
 {"data": {"values": [{"x": 26.43, "y": -21.7, "t": "27.1 ± 3.2"}]}, "mark": {"type": "text", "align": "right", "baseline": "middle", "fontSize": 14, "color": "#111111"}, "encoding": {"x": {"field": "x", "type": "quantitative", "scale": {"domain": [3.5, 36.2], "range": [57.75, 324.8], "nice": false, "zero": false}, "axis": null}, "y": {"field": "y", "type": "quantitative", "scale": {"domain": [-23.5, 53.4], "range": [619.5, 351.4], "nice": false, "zero": false}, "axis": null}, "text": {"field": "t"}}},

 {"data": {"name": "pc"}, "mark": {"type": "circle", "size": 5, "color": "#3d8a96", "opacity": 0.5}, "encoding": {
   "x": {"field": "x", "type": "quantitative", "scale": {"domain": [2.9, 35.86], "range": [231.7, 335], "nice": false, "zero": false}, "axis": {"orient": "bottom", "offset": -216, "values": [5,10,15,20,25,30,35], "title": "Hand Temperature (°C)", "tickSize": 2.5, "labelPadding": 1.5, "labelFontSize": 9, "titleFontSize": 10.5, "titleFontWeight": "normal", "titleColor": "#333333", "titlePadding": 3}},
   "y": {"field": "y", "type": "quantitative", "scale": {"domain": [-24.3, 53.3], "range": [448, 344.6], "nice": false, "zero": false}, "axis": {"orient": "left", "offset": -231.7, "values": [-20,-10,0,10,20,30,40,50], "title": "Δ Dexterity Time (s)", "tickSize": 2.5, "labelPadding": 1, "labelFontSize": 9, "titleFontSize": 10.5, "titleFontWeight": "normal", "titleColor": "#333333", "titlePadding": 9}}}},
 {"data": {"name": "ic"}, "mark": {"type": "area", "color": "#8fd3ee", "opacity": 0.7}, "encoding": {"x": {"field": "x", "type": "quantitative", "scale": {"domain": [2.9, 35.86], "range": [231.7, 335], "nice": false, "zero": false}, "axis": null}, "y": {"field": "lo", "type": "quantitative", "scale": {"domain": [-24.3, 53.3], "range": [448, 344.6], "nice": false, "zero": false}, "axis": null}, "y2": {"field": "hi"}}},
 {"data": {"name": "ic"}, "mark": {"type": "line", "color": "#14525c", "strokeWidth": 1.8}, "encoding": {"x": {"field": "x", "type": "quantitative", "scale": {"domain": [2.9, 35.86], "range": [231.7, 335], "nice": false, "zero": false}, "axis": null}, "y": {"field": "y", "type": "quantitative", "scale": {"domain": [-24.3, 53.3], "range": [448, 344.6], "nice": false, "zero": false}, "axis": null}}},

 {"data": {"name": "pd"}, "mark": {"type": "circle", "size": 80, "color": "#2f7480", "opacity": 0.42}, "encoding": {
   "x": {"field": "x", "type": "quantitative", "scale": {"domain": [3.5, 36.2], "range": [425, 692.1], "nice": false, "zero": false}, "axis": {"orient": "bottom", "offset": -44.5, "values": [5,10,15,20,25,30,35], "title": "Hand Temperature (°C)", "tickSize": 4, "labelPadding": 5, "labelFontSize": 15, "titleFontSize": 15.5, "titleFontWeight": "bold", "titleColor": "#000000", "titlePadding": 2}},
   "y": {"field": "y", "type": "quantitative", "scale": {"domain": [-23.5, 53.4], "range": [619.5, 351.4], "nice": false, "zero": false}, "axis": {"orient": "left", "offset": -425, "values": [-20,-15,-10,-5,0,5,10,15,20,25,30,35,40,45,50], "title": "Δ Dexterity Time (%)", "tickSize": 3.5, "labelPadding": 2, "labelFontSize": 15, "titleFontSize": 15.5, "titleFontWeight": "bold", "titleColor": "#000000", "titlePadding": 10}}}},
 {"data": {"name": "fd"}, "mark": {"type": "area", "color": "#6db8e6", "opacity": 0.75}, "encoding": {"x": {"field": "x", "type": "quantitative", "scale": {"domain": [3.5, 36.2], "range": [425, 692.1], "nice": false, "zero": false}, "axis": null}, "y": {"field": "lo", "type": "quantitative", "scale": {"domain": [-23.5, 53.4], "range": [619.5, 351.4], "nice": false, "zero": false}, "axis": null}, "y2": {"field": "hi"}}},
 {"data": {"name": "fd"}, "mark": {"type": "line", "color": "#3b3a9a", "strokeWidth": 3.5}, "encoding": {"x": {"field": "x", "type": "quantitative", "scale": {"domain": [3.5, 36.2], "range": [425, 692.1], "nice": false, "zero": false}, "axis": null}, "y": {"field": "y", "type": "quantitative", "scale": {"domain": [-23.5, 53.4], "range": [619.5, 351.4], "nice": false, "zero": false}, "axis": null}}},
 {"data": {"values": [{"x": 3.5, "y": 57.8, "t": "After Rewarming", "s": 15.5}, {"x": -4.38, "y": 58.1, "t": "(d)", "s": 9.5}]}, "mark": {"type": "text", "align": "left", "baseline": "middle", "fontWeight": "bold", "color": "#000000"}, "encoding": {"x": {"field": "x", "type": "quantitative", "scale": {"domain": [3.5, 36.2], "range": [425, 692.1], "nice": false, "zero": false}, "axis": null}, "y": {"field": "y", "type": "quantitative", "scale": {"domain": [-23.5, 53.4], "range": [619.5, 351.4], "nice": false, "zero": false}, "axis": null}, "text": {"field": "t"}, "size": {"field": "s", "type": "quantitative", "scale": null}}},
 {"data": {"values": [{"x": 5, "y": 47.3, "t": "R² = 0.938"}]}, "mark": {"type": "text", "align": "left", "baseline": "middle", "fontSize": 14.5, "color": "#4b4ba6"}, "encoding": {"x": {"field": "x", "type": "quantitative", "scale": {"domain": [3.5, 36.2], "range": [425, 692.1], "nice": false, "zero": false}, "axis": null}, "y": {"field": "y", "type": "quantitative", "scale": {"domain": [-23.5, 53.4], "range": [619.5, 351.4], "nice": false, "zero": false}, "axis": null}, "text": {"field": "t"}}},

 {"data": {"name": "pd"}, "mark": {"type": "circle", "size": 5, "color": "#3d8a96", "opacity": 0.5}, "encoding": {
   "x": {"field": "x", "type": "quantitative", "scale": {"domain": [3.42, 36.04], "range": [600.7, 704], "nice": false, "zero": false}, "axis": {"orient": "bottom", "offset": -216, "values": [5,10,15,20,25,30,35], "title": "Hand Temperature (°C)", "tickSize": 2.5, "labelPadding": 1.5, "labelFontSize": 9, "titleFontSize": 10.5, "titleFontWeight": "normal", "titleColor": "#333333", "titlePadding": 3}},
   "y": {"field": "y", "type": "quantitative", "scale": {"domain": [-24.3, 53.3], "range": [448, 344.6], "nice": false, "zero": false}, "axis": {"orient": "left", "offset": -600.7, "values": [-20,-10,0,10,20,30,40,50], "title": "Δ Dexterity Time (%)", "tickSize": 2.5, "labelPadding": 1, "labelFontSize": 9, "titleFontSize": 10.5, "titleFontWeight": "normal", "titleColor": "#333333", "titlePadding": 9}}}},
 {"data": {"name": "id"}, "mark": {"type": "area", "color": "#8fd3ee", "opacity": 0.7}, "encoding": {"x": {"field": "x", "type": "quantitative", "scale": {"domain": [3.42, 36.04], "range": [600.7, 704], "nice": false, "zero": false}, "axis": null}, "y": {"field": "lo", "type": "quantitative", "scale": {"domain": [-24.3, 53.3], "range": [448, 344.6], "nice": false, "zero": false}, "axis": null}, "y2": {"field": "hi"}}},
 {"data": {"name": "id"}, "mark": {"type": "line", "color": "#14525c", "strokeWidth": 1.8}, "encoding": {"x": {"field": "x", "type": "quantitative", "scale": {"domain": [3.42, 36.04], "range": [600.7, 704], "nice": false, "zero": false}, "axis": null}, "y": {"field": "y", "type": "quantitative", "scale": {"domain": [-24.3, 53.3], "range": [448, 344.6], "nice": false, "zero": false}, "axis": null}}}
]
}
